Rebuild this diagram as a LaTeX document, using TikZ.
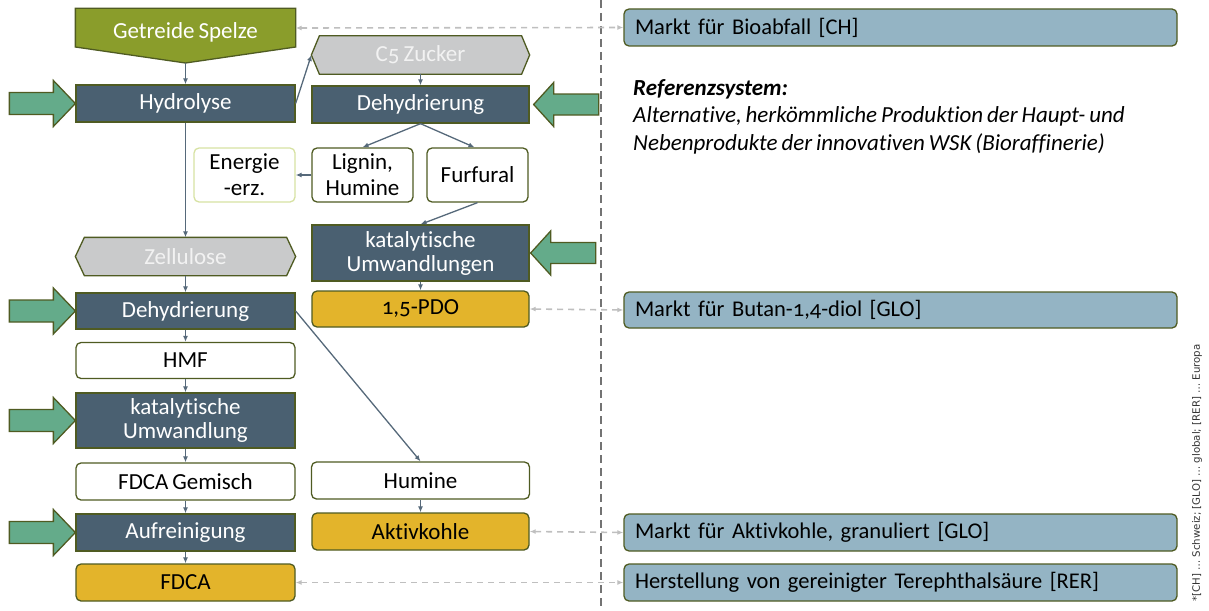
\documentclass[tikz,border=0pt]{standalone}
\usepackage{fontspec}
\setmainfont{Carlito}[Numbers=OldStyle, Ligatures=NoCommon, WordSpace=0.75]
\newfontfamily\notefont{DejaVu Sans}
\usetikzlibrary{arrows.meta,calc}
\pgfdeclarelayer{bg}
\pgfsetlayers{bg,main}

\definecolor{slate}{HTML}{4A6071}
\definecolor{hexgray}{HTML}{C9CACB}
\definecolor{inflow}{HTML}{64AB8A}
\definecolor{olive}{HTML}{4F5B22}
\definecolor{gold}{HTML}{E3B42B}
\definecolor{husk}{HTML}{8A9D2B}
\definecolor{market}{HTML}{94B4C4}
\definecolor{link}{HTML}{56697A}
\definecolor{energyedge}{HTML}{D7E2A3}
\definecolor{reflink}{HTML}{BFBFBF}
\definecolor{divider}{HTML}{737373}

\tikzset{
  boxbase/.style={inner sep=0pt, line width=1.3pt, align=center,
    font=\fontsize{23}{25}\selectfont},
  procbox/.style={boxbase, draw=olive, fill=slate, text=white,
    minimum width=#1, minimum height=37pt},
  procbox/.default=219pt,
  prodbox/.style={boxbase, draw=olive, fill=white, rounded corners=5pt,
    minimum width=219pt, minimum height=37pt},
  smallbox/.style={boxbase, draw=olive, fill=white, rounded corners=5pt,
    minimum width=101pt, minimum height=54pt,
    font=\fontsize{23}{26}\selectfont},
  goldbox/.style={boxbase, draw=olive, fill=gold, rounded corners=5pt,
    minimum width=217pt, minimum height=37pt},
  hexnode/.style={boxbase, text=white!95!black, minimum width=#1,
    minimum height=37pt},
  hexshape/.style={draw=olive, fill=hexgray, line width=1.3pt},
  marketbox/.style={boxbase, draw=olive, fill=market, rounded corners=5pt,
    text width=531pt, inner xsep=11pt, align=left, minimum height=37pt,
    font=\fontsize{22.5}{25}\selectfont},
  flow/.style={draw=link, line width=1.3pt, -{Latex[length=6pt,width=5pt]}},
  refflow/.style={draw=reflink, line width=1.6pt, dash pattern=on 6pt off 5pt,
    {Latex[length=6pt,width=5pt]}-{Latex[length=6pt,width=5pt]}},
  inarrow/.style={draw=olive, fill=inflow, line width=1.3pt, line join=miter},
}

\begin{document}
\begin{tikzpicture}[x=1pt,y=-1pt]
\useasboundingbox (0,0) rectangle (1209,610);

% system boundary
\draw[divider, line width=1.5pt, dash pattern=on 8pt off 5pt] (601,0) -- (601,610);

% feedstock (banner drawn behind the label, tip at the bottom)
\node[boxbase, text=white, minimum width=219pt, minimum height=46pt] (husk) at (185.5,32) {Getreide Spelze};
\coordinate (hustip) at (husk.south |- 0,63);

% left process chain
\node[procbox] (hyd) at (185.5,103.5) {Hydrolyse};
\node[hexnode=219pt] (zell) at (185.5,256.5) {Zellulose};
\node[procbox, minimum height=36pt] (dehL) at (185.5,311) {Dehydrierung};
\node[prodbox, minimum height=36pt] (hmf) at (185.5,360.5) {HMF};
\node[procbox, minimum height=55pt] (katL) at (185.5,420.5) {katalytische\\[-1pt]Umwandlung};
\node[prodbox] (fdcagem) at (185.5,481.5) {FDCA Gemisch};
\node[procbox] (aufr) at (185.5,532.5) {Aufreinigung};
\node[goldbox, minimum width=219pt] (fdca) at (185.5,582.5) {FDCA};

% right process chain
\node[hexnode=217pt] (c5) at (420.5,55) {C5 Zucker};
\node[procbox=217pt] (dehR) at (420.5,104.5) {Dehydrierung};
\node[smallbox, draw=energyedge] (energie) at (244.5,175) {Energie\\-erz.};
\node[smallbox] (lignin) at (362.5,175) {Lignin,\\Humine};
\node[smallbox] (furfural) at (477.5,175) {Furfural};
\node[procbox=217pt, minimum height=56pt] (katR) at (420.5,253) {katalytische\\[-1pt]Umwandlungen};
\node[goldbox, minimum height=36pt] (pdo) at (420.5,309) {1,5-PDO};
\node[prodbox, minimum width=218pt] (humine) at (420.5,480.5) {Humine};
\node[goldbox] (aktiv) at (420.5,531.5) {Aktivkohle};

% reference system
\node[marketbox] (bio) at (900.5,27.5) {Markt für Bioabfall [CH]};
\node[marketbox, minimum height=36pt] (butan) at (900.5,310) {Markt für Butan-1,4-diol [GLO]};
\node[marketbox] (aktivm) at (900.5,532.5) {Markt für Aktivkohle, granuliert [GLO]};
\node[marketbox] (terephth) at (900.5,582.5) {Herstellung von gereinigter Terephthalsäure [RER]};

\node[inner sep=0pt, anchor=north west, align=left,
  font=\fontsize{23}{27.5}\selectfont\itshape] (refsys) at (633,79)
  {\textbf{Referenzsystem:}\\
   Alternative, herkömmliche Produktion der Haupt- und\\
   Nebenprodukte der innovativen WSK (Bioraffinerie)};

\node[rotate=90, inner sep=0pt, text=black!80,
  font=\notefont\fontsize{10.2}{12}\selectfont] (legend) at (1197,473)
  {*[CH] … Schweiz; [GLO] … global; [RER] … Europa};

% shaped outlines behind the labels
\begin{pgfonlayer}{bg}
  \draw[draw=olive, fill=husk, line width=1.3pt, line join=miter]
    (husk.north west) -- (husk.north east) -- (husk.east |- 0,47) -- (hustip)
    -- (husk.west |- 0,47) -- cycle;
  \foreach \h/\d in {zell/9, c5/8}{
    \draw[hexshape] (\h.west) -- ($(\h.north west)+(\d,0)$) -- ($(\h.north east)+(-\d,0)$)
      -- (\h.east) -- ($(\h.south east)+(-\d,0)$) -- ($(\h.south west)+(\d,0)$) -- cycle;
  }
\end{pgfonlayer}

% material flows
\draw[flow] (hustip) -- (hyd);
\draw[flow] (hyd.east) -- (c5.west);
\draw[flow] (c5) -- (dehR);
\draw[flow] (dehR.south) -- (lignin.north);
\draw[flow] (dehR.south) -- ($(furfural.north)+(-3,0)$);
\draw[flow] (lignin) -- (energie);
\draw[flow] (furfural.south) -- (katR.north);
\draw[flow] (katR) -- (pdo);
\draw[flow] (hyd) -- (zell);
\draw[flow] (zell) -- (dehL);
\draw[flow] (dehL) -- (hmf);
\draw[flow] (hmf) -- (katL);
\draw[flow] (katL) -- (fdcagem);
\draw[flow] (fdcagem) -- (aufr);
\draw[flow] (aufr) -- (fdca);
\draw[flow] (dehL.east) -- (humine.north);
\draw[flow] (humine) -- (aktiv);

% substitution links to the reference system
\draw[refflow] (husk.east |- 0,28) -- (bio.west);
\draw[refflow] (pdo.east) -- (butan.west);
\draw[refflow] (aktiv.east) -- (aktivm.west);
\draw[refflow] (fdca.east) -- (terephth.west);

% auxiliary inputs
\foreach \n in {hyd, dehL, katL, aufr}{
  \draw[inarrow] (\n.west) -- ++(-22,23) -- ++(0,-12) -- ++(-44,0) -- ++(0,-22)
    -- ++(44,0) -- ++(0,-12) -- cycle;
}
\foreach \n/\g in {dehR/4, katR/1}{
  \draw[inarrow] ($(\n.east)+(\g,0)$) -- ++(20,22) -- ++(0,-11.5) -- ++(45,0) -- ++(0,-21)
    -- ++(-45,0) -- ++(0,-11.5) -- cycle;
}
\end{tikzpicture}
\end{document}
